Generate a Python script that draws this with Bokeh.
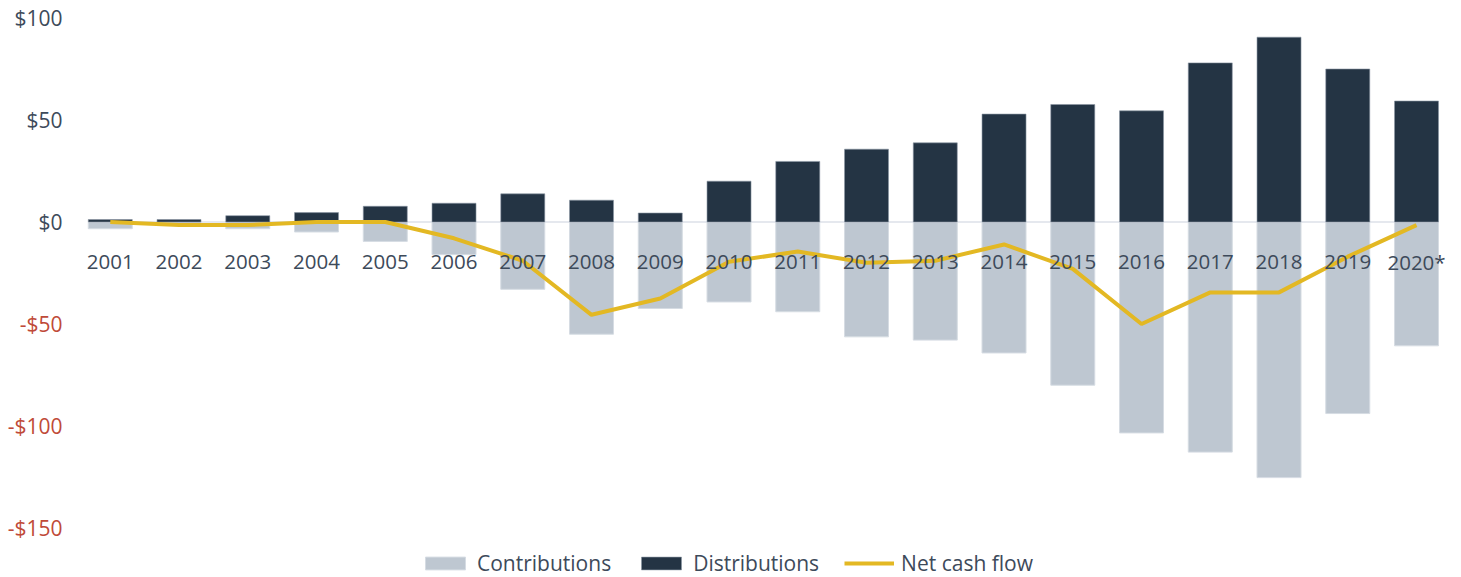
from bokeh.plotting import figure
from bokeh.models import ColumnDataSource, Label, Legend, LegendItem
from bokeh.core.properties import value
from bokeh.embed import file_html
from bokeh.resources import INLINE

years = ["2001", "2002", "2003", "2004", "2005", "2006", "2007", "2008", "2009", "2010",
         "2011", "2012", "2013", "2014", "2015", "2016", "2017", "2018", "2019", "2020*"]
contributions = [-3.3, -0.8, -3.3, -4.9, -9.5, -16, -33, -55, -42.4, -39.2,
                 -44, -56.3, -57.9, -64.2, -80, -103.4, -112.8, -125.3, -93.9, -60.7]
distributions = [1.2, 1.2, 3.1, 4.6, 7.7, 9.2, 13.8, 10.7, 4.4, 20,
                 29.7, 35.7, 38.8, 52.9, 57.6, 54.5, 78, 90.6, 75, 59.3]
net_cash_flow = [0, -1.5, -1.5, 0, 0, -8, -19, -45.5, -37.5, -19.5,
                 -14.5, -20, -19, -11, -23, -50, -34.5, -34.5, -17, -1.5]
y_ticks = [100, 50, 0, -50, -100, -150]
y_tick_labels = ["$100", "$50", "$0", "-$50", "-$100", "-$150"]

FONT = "Open Sans"
TEXT = "#3d4a5a"
RED = "#bf4a38"
DARK = "#243444"
GREY = "#bec7d1"
GOLD = "#e3b823"
BW = 0.64

W, H = 1461, 577
# layout: category pitch and value scale in pixels
PX_X = 68.75
LEFT_PAD = 75.4
PX_Y = 2.04
ZERO_Y = 221.5

x_start = -0.5 - LEFT_PAD / PX_X
x_end = x_start + W / PX_X
y_end = ZERO_Y / PX_Y
y_start = -(H - ZERO_Y) / PX_Y

idx = list(range(len(years)))
src = ColumnDataSource(dict(x=idx, year=years, c=contributions, d=distributions,
                            n=net_cash_flow, zero=[0] * len(years)))

p = figure(width=W, height=H, x_range=(x_start, x_end), y_range=(y_start, y_end),
           output_backend="svg", toolbar_location=None,
           x_axis_location=None, y_axis_location=None, min_border=0)
p.outline_line_color = None
p.xgrid.visible = False
p.ygrid.visible = False
p.background_fill_color = "white"
p.border_fill_color = "white"

# zero line
p.segment(x0=[idx[0] - BW / 2], x1=[idx[-1] + BW / 2], y0=[0], y1=[0],
          line_color="#dce1e9", line_width=1.5)

rc = p.vbar(x="x", top="zero", bottom="c", width=BW, source=src,
            fill_color=GREY, line_color="#d6dce3", line_width=1)
rd = p.vbar(x="x", top="d", bottom="zero", width=BW, source=src,
            fill_color=DARK, line_color="#8a96a3", line_width=0.6)
rn = p.line(x="x", y="n", source=src, line_color=GOLD, line_width=4)

p.text(x="x", y="zero", text="year", source=src, y_offset=39.5,
       text_align="center", text_baseline="middle",
       text_font=value(FONT), text_font_size="20.5px", text_color=TEXT)

for v, t in zip(y_ticks, y_tick_labels):
    p.add_layout(Label(x=-0.5, y=v, x_offset=-13.4, text=t, text_align="right",
                       text_baseline="middle", text_font=FONT, text_font_size="21px",
                       text_color=RED if v < 0 else TEXT))

legend = Legend(items=[LegendItem(label="Contributions", renderers=[rc]),
                       LegendItem(label="Distributions", renderers=[rd]),
                       LegendItem(label="Net cash flow", renderers=[rn])],
                location=(420, 0), orientation="horizontal",
                glyph_width=50, glyph_height=16, label_standoff=7, spacing=25,
                padding=0, margin=0, border_line_color=None, background_fill_alpha=0,
                label_text_font=FONT, label_text_font_size="21px", label_text_color=TEXT)
p.add_layout(legend)

open("out.html", "w").write(file_html(p, INLINE))
